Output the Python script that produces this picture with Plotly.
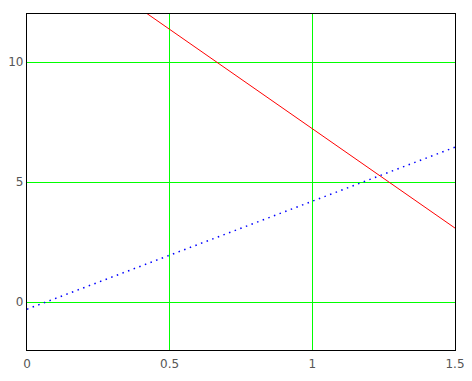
import plotly.graph_objects as go

x_red = [0.0, 1.5]
y_red = [15.5, 3.08]
x_blue = [0.0, 1.5]
y_blue = [-0.3, 6.45]
x_ticks = [0, 0.5, 1, 1.5]
x_labels = ["0", "0.5", "1", "1.5"]
y_ticks = [0, 5, 10]
y_labels = ["0", "5", "10"]

fig = go.Figure()
fig.add_trace(go.Scatter(x=x_red, y=y_red, mode="lines",
                         line=dict(color="#ff0000", width=1), showlegend=False))
fig.add_trace(go.Scatter(x=x_blue, y=y_blue, mode="lines",
                         line=dict(color="#0000ff", width=1.5, dash="1.5px,4.5px"), showlegend=False))

# page body has an 8px default margin; size the figure so the plot area lands where the reference's is
fig.update_layout(
    width=464, height=373,
    margin=dict(l=18.5, r=16.5, t=6, b=31, autoexpand=False),
    paper_bgcolor="white", plot_bgcolor="white",
    font=dict(family="DejaVu Sans", size=12, color="#555555"),
)
fig.update_xaxes(range=[0, 1.5], tickvals=x_ticks, ticktext=x_labels,
                 showgrid=True, gridcolor="#00ff00", gridwidth=1.2,
                 showline=True, linecolor="black", linewidth=1.2, mirror=True,
                 zeroline=False, ticks="", ticklabelstandoff=2, automargin=False)
fig.update_yaxes(range=[-2, 12], tickvals=y_ticks, ticktext=y_labels,
                 showgrid=True, gridcolor="#00ff00", gridwidth=1.2,
                 showline=True, linecolor="black", linewidth=1.2, mirror=True,
                 zeroline=False, ticks="", ticklabelstandoff=0, automargin=False)

fig.write_html("out.html")
